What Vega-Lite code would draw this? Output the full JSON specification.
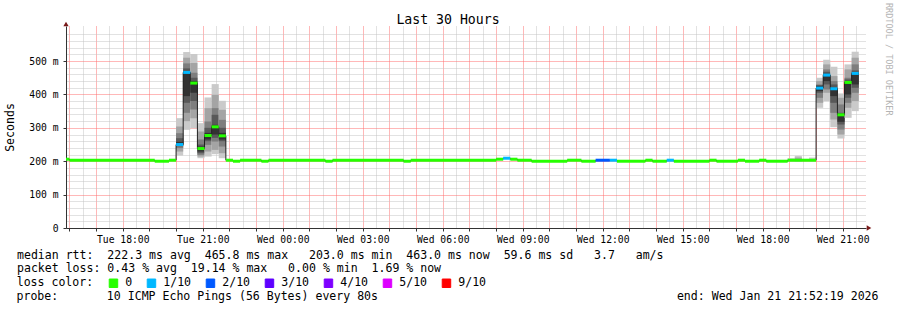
{
  "$schema": "https://vega.github.io/schema/vega-lite/v6.json",
  "width": 800,
  "height": 202,
  "autosize": "none",
  "padding": {"left": 66, "top": 26, "right": 31, "bottom": 82},
  "background": "white",
  "config": {"view": {"stroke": null}, "font": "DejaVu Sans Mono"},
  "title": {"text": "Last 30 Hours", "font": "DejaVu Sans Mono", "fontSize": 13.2, "fontWeight": "normal", "color": "#000", "anchor": "middle", "frame": "group", "baseline": "alphabetic", "offset": 0, "dx": -18, "dy": 34},
  "datasets": {
    "median": [
      {"t": "2026-01-20T15:52:19Z", "t2": "2026-01-20T16:00:00Z", "med": 206, "loss": "0"},
      {"t": "2026-01-20T16:00:00Z", "t2": "2026-01-20T19:12:00Z", "med": 203, "loss": "0"},
      {"t": "2026-01-20T19:12:00Z", "t2": "2026-01-20T19:44:00Z", "med": 200, "loss": "0"},
      {"t": "2026-01-20T19:44:00Z", "t2": "2026-01-20T20:00:00Z", "med": 203, "loss": "0"},
      {"t": "2026-01-20T20:00:00Z", "t2": "2026-01-20T20:16:00Z", "med": 250, "loss": "1/10"},
      {"t": "2026-01-20T20:16:00Z", "t2": "2026-01-20T20:32:00Z", "med": 466, "loss": "1/10"},
      {"t": "2026-01-20T20:32:00Z", "t2": "2026-01-20T20:48:00Z", "med": 434, "loss": "0"},
      {"t": "2026-01-20T20:48:00Z", "t2": "2026-01-20T21:04:00Z", "med": 238, "loss": "0"},
      {"t": "2026-01-20T21:04:00Z", "t2": "2026-01-20T21:20:00Z", "med": 277, "loss": "0"},
      {"t": "2026-01-20T21:20:00Z", "t2": "2026-01-20T21:36:00Z", "med": 303, "loss": "0"},
      {"t": "2026-01-20T21:36:00Z", "t2": "2026-01-20T21:52:00Z", "med": 276, "loss": "0"},
      {"t": "2026-01-20T21:52:00Z", "t2": "2026-01-20T22:08:00Z", "med": 203, "loss": "0"},
      {"t": "2026-01-20T22:08:00Z", "t2": "2026-01-20T22:24:00Z", "med": 200, "loss": "0"},
      {"t": "2026-01-20T22:24:00Z", "t2": "2026-01-20T23:12:00Z", "med": 203, "loss": "0"},
      {"t": "2026-01-20T23:12:00Z", "t2": "2026-01-20T23:28:00Z", "med": 200, "loss": "0"},
      {"t": "2026-01-20T23:28:00Z", "t2": "2026-01-21T01:36:00Z", "med": 203, "loss": "0"},
      {"t": "2026-01-21T01:36:00Z", "t2": "2026-01-21T01:52:00Z", "med": 200, "loss": "0"},
      {"t": "2026-01-21T01:52:00Z", "t2": "2026-01-21T04:32:00Z", "med": 203, "loss": "0"},
      {"t": "2026-01-21T04:32:00Z", "t2": "2026-01-21T04:48:00Z", "med": 200, "loss": "0"},
      {"t": "2026-01-21T04:48:00Z", "t2": "2026-01-21T08:00:00Z", "med": 203, "loss": "0"},
      {"t": "2026-01-21T08:00:00Z", "t2": "2026-01-21T08:16:00Z", "med": 206, "loss": "0"},
      {"t": "2026-01-21T08:16:00Z", "t2": "2026-01-21T08:32:00Z", "med": 209, "loss": "1/10"},
      {"t": "2026-01-21T08:32:00Z", "t2": "2026-01-21T08:48:00Z", "med": 206, "loss": "0"},
      {"t": "2026-01-21T08:48:00Z", "t2": "2026-01-21T09:20:00Z", "med": 203, "loss": "0"},
      {"t": "2026-01-21T09:20:00Z", "t2": "2026-01-21T10:40:00Z", "med": 200, "loss": "0"},
      {"t": "2026-01-21T10:40:00Z", "t2": "2026-01-21T11:12:00Z", "med": 203, "loss": "0"},
      {"t": "2026-01-21T11:12:00Z", "t2": "2026-01-21T11:44:00Z", "med": 200, "loss": "0"},
      {"t": "2026-01-21T11:44:00Z", "t2": "2026-01-21T12:16:00Z", "med": 203, "loss": "2/10"},
      {"t": "2026-01-21T12:16:00Z", "t2": "2026-01-21T12:32:00Z", "med": 203, "loss": "1/10"},
      {"t": "2026-01-21T12:32:00Z", "t2": "2026-01-21T13:36:00Z", "med": 200, "loss": "0"},
      {"t": "2026-01-21T13:36:00Z", "t2": "2026-01-21T13:52:00Z", "med": 203, "loss": "0"},
      {"t": "2026-01-21T13:52:00Z", "t2": "2026-01-21T14:24:00Z", "med": 200, "loss": "0"},
      {"t": "2026-01-21T14:24:00Z", "t2": "2026-01-21T14:40:00Z", "med": 203, "loss": "1/10"},
      {"t": "2026-01-21T14:40:00Z", "t2": "2026-01-21T16:00:00Z", "med": 200, "loss": "0"},
      {"t": "2026-01-21T16:00:00Z", "t2": "2026-01-21T16:16:00Z", "med": 203, "loss": "0"},
      {"t": "2026-01-21T16:16:00Z", "t2": "2026-01-21T17:04:00Z", "med": 200, "loss": "0"},
      {"t": "2026-01-21T17:04:00Z", "t2": "2026-01-21T17:20:00Z", "med": 203, "loss": "0"},
      {"t": "2026-01-21T17:20:00Z", "t2": "2026-01-21T17:52:00Z", "med": 200, "loss": "0"},
      {"t": "2026-01-21T17:52:00Z", "t2": "2026-01-21T18:08:00Z", "med": 203, "loss": "0"},
      {"t": "2026-01-21T18:08:00Z", "t2": "2026-01-21T18:56:00Z", "med": 200, "loss": "0"},
      {"t": "2026-01-21T18:56:00Z", "t2": "2026-01-21T20:00:00Z", "med": 203, "loss": "0"},
      {"t": "2026-01-21T20:00:00Z", "t2": "2026-01-21T20:16:00Z", "med": 419, "loss": "1/10"},
      {"t": "2026-01-21T20:16:00Z", "t2": "2026-01-21T20:32:00Z", "med": 458, "loss": "1/10"},
      {"t": "2026-01-21T20:32:00Z", "t2": "2026-01-21T20:48:00Z", "med": 417, "loss": "1/10"},
      {"t": "2026-01-21T20:48:00Z", "t2": "2026-01-21T21:04:00Z", "med": 339, "loss": "0"},
      {"t": "2026-01-21T21:04:00Z", "t2": "2026-01-21T21:20:00Z", "med": 436, "loss": "0"},
      {"t": "2026-01-21T21:20:00Z", "t2": "2026-01-21T21:36:00Z", "med": 463, "loss": "1/10"}
    ],
    "smoke": [
      {"t": "2026-01-20T20:00:00Z", "t2": "2026-01-20T20:16:00Z", "band": 1, "lo": 217, "hi": 329},
      {"t": "2026-01-20T20:00:00Z", "t2": "2026-01-20T20:16:00Z", "band": 2, "lo": 229, "hi": 304},
      {"t": "2026-01-20T20:00:00Z", "t2": "2026-01-20T20:16:00Z", "band": 3, "lo": 239, "hi": 284},
      {"t": "2026-01-20T20:00:00Z", "t2": "2026-01-20T20:16:00Z", "band": 4, "lo": 245, "hi": 269},
      {"t": "2026-01-20T20:00:00Z", "t2": "2026-01-20T20:16:00Z", "band": 5, "lo": 247, "hi": 258},
      {"t": "2026-01-20T20:16:00Z", "t2": "2026-01-20T20:32:00Z", "band": 1, "lo": 294, "hi": 527},
      {"t": "2026-01-20T20:16:00Z", "t2": "2026-01-20T20:32:00Z", "band": 2, "lo": 320, "hi": 510},
      {"t": "2026-01-20T20:16:00Z", "t2": "2026-01-20T20:32:00Z", "band": 3, "lo": 345, "hi": 493},
      {"t": "2026-01-20T20:16:00Z", "t2": "2026-01-20T20:32:00Z", "band": 4, "lo": 375, "hi": 478},
      {"t": "2026-01-20T20:16:00Z", "t2": "2026-01-20T20:32:00Z", "band": 5, "lo": 395, "hi": 470},
      {"t": "2026-01-20T20:32:00Z", "t2": "2026-01-20T20:48:00Z", "band": 1, "lo": 299, "hi": 521},
      {"t": "2026-01-20T20:32:00Z", "t2": "2026-01-20T20:48:00Z", "band": 2, "lo": 329, "hi": 494},
      {"t": "2026-01-20T20:32:00Z", "t2": "2026-01-20T20:48:00Z", "band": 3, "lo": 355, "hi": 465},
      {"t": "2026-01-20T20:32:00Z", "t2": "2026-01-20T20:48:00Z", "band": 4, "lo": 380, "hi": 450},
      {"t": "2026-01-20T20:32:00Z", "t2": "2026-01-20T20:48:00Z", "band": 5, "lo": 405, "hi": 440},
      {"t": "2026-01-20T20:48:00Z", "t2": "2026-01-20T21:04:00Z", "band": 1, "lo": 209, "hi": 314},
      {"t": "2026-01-20T20:48:00Z", "t2": "2026-01-20T21:04:00Z", "band": 2, "lo": 214, "hi": 289},
      {"t": "2026-01-20T20:48:00Z", "t2": "2026-01-20T21:04:00Z", "band": 3, "lo": 219, "hi": 265},
      {"t": "2026-01-20T20:48:00Z", "t2": "2026-01-20T21:04:00Z", "band": 4, "lo": 224, "hi": 250},
      {"t": "2026-01-20T20:48:00Z", "t2": "2026-01-20T21:04:00Z", "band": 5, "lo": 229, "hi": 244},
      {"t": "2026-01-20T21:04:00Z", "t2": "2026-01-20T21:20:00Z", "band": 1, "lo": 214, "hi": 391},
      {"t": "2026-01-20T21:04:00Z", "t2": "2026-01-20T21:20:00Z", "band": 2, "lo": 229, "hi": 359},
      {"t": "2026-01-20T21:04:00Z", "t2": "2026-01-20T21:20:00Z", "band": 3, "lo": 249, "hi": 319},
      {"t": "2026-01-20T21:04:00Z", "t2": "2026-01-20T21:20:00Z", "band": 4, "lo": 260, "hi": 300},
      {"t": "2026-01-20T21:04:00Z", "t2": "2026-01-20T21:20:00Z", "band": 5, "lo": 265, "hi": 285},
      {"t": "2026-01-20T21:20:00Z", "t2": "2026-01-20T21:36:00Z", "band": 1, "lo": 221, "hi": 431},
      {"t": "2026-01-20T21:20:00Z", "t2": "2026-01-20T21:36:00Z", "band": 2, "lo": 234, "hi": 399},
      {"t": "2026-01-20T21:20:00Z", "t2": "2026-01-20T21:36:00Z", "band": 3, "lo": 259, "hi": 359},
      {"t": "2026-01-20T21:20:00Z", "t2": "2026-01-20T21:36:00Z", "band": 4, "lo": 270, "hi": 339},
      {"t": "2026-01-20T21:20:00Z", "t2": "2026-01-20T21:36:00Z", "band": 5, "lo": 280, "hi": 309},
      {"t": "2026-01-20T21:36:00Z", "t2": "2026-01-20T21:52:00Z", "band": 1, "lo": 209, "hi": 381},
      {"t": "2026-01-20T21:36:00Z", "t2": "2026-01-20T21:52:00Z", "band": 2, "lo": 224, "hi": 354},
      {"t": "2026-01-20T21:36:00Z", "t2": "2026-01-20T21:52:00Z", "band": 3, "lo": 244, "hi": 324},
      {"t": "2026-01-20T21:36:00Z", "t2": "2026-01-20T21:52:00Z", "band": 4, "lo": 260, "hi": 300},
      {"t": "2026-01-20T21:36:00Z", "t2": "2026-01-20T21:52:00Z", "band": 5, "lo": 265, "hi": 285},
      {"t": "2026-01-21T18:56:00Z", "t2": "2026-01-21T19:12:00Z", "band": 1, "lo": 199, "hi": 209},
      {"t": "2026-01-21T19:12:00Z", "t2": "2026-01-21T19:28:00Z", "band": 1, "lo": 198, "hi": 216},
      {"t": "2026-01-21T19:12:00Z", "t2": "2026-01-21T19:28:00Z", "band": 2, "lo": 200, "hi": 211},
      {"t": "2026-01-21T19:44:00Z", "t2": "2026-01-21T20:00:00Z", "band": 1, "lo": 199, "hi": 211},
      {"t": "2026-01-21T20:00:00Z", "t2": "2026-01-21T20:16:00Z", "band": 1, "lo": 360, "hi": 450},
      {"t": "2026-01-21T20:00:00Z", "t2": "2026-01-21T20:16:00Z", "band": 2, "lo": 375, "hi": 440},
      {"t": "2026-01-21T20:00:00Z", "t2": "2026-01-21T20:16:00Z", "band": 3, "lo": 390, "hi": 430},
      {"t": "2026-01-21T20:00:00Z", "t2": "2026-01-21T20:16:00Z", "band": 4, "lo": 405, "hi": 428},
      {"t": "2026-01-21T20:00:00Z", "t2": "2026-01-21T20:16:00Z", "band": 5, "lo": 410, "hi": 425},
      {"t": "2026-01-21T20:16:00Z", "t2": "2026-01-21T20:32:00Z", "band": 1, "lo": 380, "hi": 504},
      {"t": "2026-01-21T20:16:00Z", "t2": "2026-01-21T20:32:00Z", "band": 2, "lo": 405, "hi": 490},
      {"t": "2026-01-21T20:16:00Z", "t2": "2026-01-21T20:32:00Z", "band": 3, "lo": 415, "hi": 475},
      {"t": "2026-01-21T20:16:00Z", "t2": "2026-01-21T20:32:00Z", "band": 4, "lo": 430, "hi": 468},
      {"t": "2026-01-21T20:16:00Z", "t2": "2026-01-21T20:32:00Z", "band": 5, "lo": 440, "hi": 462},
      {"t": "2026-01-21T20:32:00Z", "t2": "2026-01-21T20:48:00Z", "band": 1, "lo": 302, "hi": 483},
      {"t": "2026-01-21T20:32:00Z", "t2": "2026-01-21T20:48:00Z", "band": 2, "lo": 325, "hi": 455},
      {"t": "2026-01-21T20:32:00Z", "t2": "2026-01-21T20:48:00Z", "band": 3, "lo": 345, "hi": 440},
      {"t": "2026-01-21T20:32:00Z", "t2": "2026-01-21T20:48:00Z", "band": 4, "lo": 375, "hi": 430},
      {"t": "2026-01-21T20:32:00Z", "t2": "2026-01-21T20:48:00Z", "band": 5, "lo": 395, "hi": 420},
      {"t": "2026-01-21T20:48:00Z", "t2": "2026-01-21T21:04:00Z", "band": 1, "lo": 268, "hi": 403},
      {"t": "2026-01-21T20:48:00Z", "t2": "2026-01-21T21:04:00Z", "band": 2, "lo": 280, "hi": 390},
      {"t": "2026-01-21T20:48:00Z", "t2": "2026-01-21T21:04:00Z", "band": 3, "lo": 295, "hi": 370},
      {"t": "2026-01-21T20:48:00Z", "t2": "2026-01-21T21:04:00Z", "band": 4, "lo": 310, "hi": 345},
      {"t": "2026-01-21T20:48:00Z", "t2": "2026-01-21T21:04:00Z", "band": 5, "lo": 318, "hi": 342},
      {"t": "2026-01-21T21:04:00Z", "t2": "2026-01-21T21:20:00Z", "band": 1, "lo": 330, "hi": 490},
      {"t": "2026-01-21T21:04:00Z", "t2": "2026-01-21T21:20:00Z", "band": 2, "lo": 360, "hi": 475},
      {"t": "2026-01-21T21:04:00Z", "t2": "2026-01-21T21:20:00Z", "band": 3, "lo": 375, "hi": 450},
      {"t": "2026-01-21T21:04:00Z", "t2": "2026-01-21T21:20:00Z", "band": 4, "lo": 390, "hi": 445},
      {"t": "2026-01-21T21:04:00Z", "t2": "2026-01-21T21:20:00Z", "band": 5, "lo": 400, "hi": 438},
      {"t": "2026-01-21T21:20:00Z", "t2": "2026-01-21T21:36:00Z", "band": 1, "lo": 350, "hi": 528},
      {"t": "2026-01-21T21:20:00Z", "t2": "2026-01-21T21:36:00Z", "band": 2, "lo": 380, "hi": 510},
      {"t": "2026-01-21T21:20:00Z", "t2": "2026-01-21T21:36:00Z", "band": 3, "lo": 405, "hi": 490},
      {"t": "2026-01-21T21:20:00Z", "t2": "2026-01-21T21:36:00Z", "band": 4, "lo": 420, "hi": 472},
      {"t": "2026-01-21T21:20:00Z", "t2": "2026-01-21T21:36:00Z", "band": 5, "lo": 430, "hi": 466}
    ]
  },
  "layer": [
    {
      "data": {"name": "smoke"},
      "mark": {"type": "rect"},
      "encoding": {
        "x": {"field": "t", "type": "temporal",
          "scale": {"type": "utc", "domain": [1768924339000, 1769032339000]},
          "axis": {"orient": "bottom", "grid": true, "tickCount": 1000,
            "gridColor": {"condition": {"test": "utcminutes(datum.value) == 0", "value": "#ff7070"}, "value": "#c4c4c4"},
            "gridDash": [1, 1],
            "values": [1768924800000, 1768926600000, 1768928400000, 1768930200000, 1768932000000, 1768933800000, 1768935600000, 1768937400000, 1768939200000, 1768941000000, 1768942800000, 1768944600000, 1768946400000, 1768948200000, 1768950000000, 1768951800000, 1768953600000, 1768955400000, 1768957200000, 1768959000000, 1768960800000, 1768962600000, 1768964400000, 1768966200000, 1768968000000, 1768969800000, 1768971600000, 1768973400000, 1768975200000, 1768977000000, 1768978800000, 1768980600000, 1768982400000, 1768984200000, 1768986000000, 1768987800000, 1768989600000, 1768991400000, 1768993200000, 1768995000000, 1768996800000, 1768998600000, 1769000400000, 1769002200000, 1769004000000, 1769005800000, 1769007600000, 1769009400000, 1769011200000, 1769013000000, 1769014800000, 1769016600000, 1769018400000, 1769020200000, 1769022000000, 1769023800000, 1769025600000, 1769027400000, 1769029200000, 1769031000000],
            "labelExpr": "utcminutes(datum.value) == 0 && utchours(datum.value) % 3 == 0 ? utcFormat(datum.value, '%a %H:%M') : ''",
            "labelFont": "DejaVu Sans Mono", "labelFontSize": 9.7, "labelColor": "#000", "labelPadding": 3, "labelOverlap": false, "labelFlush": false, "labelBound": false,
            "ticks": true, "tickSize": {"condition": {"test": "utcminutes(datum.value) == 0", "value": 3}, "value": 0}, "tickColor": "#333", "domain": true, "domainColor": "#333",
            "title": [
              "median\u00a0rtt:\u00a0\u00a0222.3\u00a0ms\u00a0avg\u00a0\u00a0465.8\u00a0ms\u00a0max\u00a0\u00a0\u00a0203.0\u00a0ms\u00a0min\u00a0\u00a0463.0\u00a0ms\u00a0now\u00a0\u00a059.6\u00a0ms\u00a0sd\u00a0\u00a0\u00a03.7\u00a0\u00a0\u00a0am/s",
              "packet\u00a0loss:\u00a00.43\u00a0%\u00a0avg\u00a0\u00a019.14\u00a0%\u00a0max\u00a0\u00a0\u00a00.00\u00a0%\u00a0min\u00a0\u00a01.69\u00a0%\u00a0now"
            ],
            "titleX": -49.5, "titleY": 30, "titleAlign": "left", "titleAnchor": "start", "titleBaseline": "alphabetic", "titleFont": "DejaVu Sans Mono", "titleFontSize": 11.55, "titleFontWeight": "normal", "titleColor": "#000", "titleLineHeight": 13.9}},
        "x2": {"field": "t2"},
        "y": {"field": "lo", "type": "quantitative",
          "scale": {"domain": [0, 605], "nice": false, "zero": true},
          "axis": {"orient": "left", "grid": true, "tickCount": 1000,
            "gridColor": {"condition": {"test": "datum.value % 100 == 0", "value": "#ff7070"}, "value": "#c4c4c4"},
            "gridDash": [1, 1],
            "values": [0, 20, 40, 60, 80, 100, 120, 140, 160, 180, 200, 220, 240, 260, 280, 300, 320, 340, 360, 380, 400, 420, 440, 460, 480, 500, 520, 540, 560, 580],
            "labelExpr": "datum.value % 100 != 0 ? '' : datum.value == 0 ? '0\u00a0\u00a0' : format(datum.value, 'd') + '\u00a0m'",
            "labelFont": "DejaVu Sans Mono", "labelFontSize": 9.7, "labelColor": "#000", "labelPadding": 5, "labelOverlap": false, "labelBound": false, "labelFlush": false,
            "ticks": true, "tickSize": {"condition": {"test": "datum.value % 100 == 0", "value": 3}, "value": 0}, "tickColor": "#333", "domain": true, "domainColor": "#333",
            "title": "Seconds", "titleFont": "DejaVu Sans Mono", "titleFontSize": 11.55, "titleFontWeight": "normal", "titleColor": "#000", "titleAngle": 270, "titleX": -55.5, "titleY": 101, "titleAlign": "center", "titleBaseline": "middle"}},
        "y2": {"field": "hi"},
        "fill": {"field": "band", "type": "ordinal", "scale": {"domain": [1, 2, 3, 4, 5], "range": ["#cacaca", "#a4a4a4", "#7e7e7e", "#585858", "#323232"]}, "legend": null}
      }
    },
    {
      "data": {"name": "median"},
      "mark": {"type": "line", "interpolate": "step-after", "color": "#202020", "strokeWidth": 1},
      "encoding": {
        "x": {"field": "t", "type": "temporal"},
        "y": {"field": "med", "type": "quantitative"}
      }
    },
    {
      "data": {"name": "median"},
      "mark": {"type": "rule", "strokeWidth": 3},
      "encoding": {
        "x": {"field": "t", "type": "temporal"},
        "x2": {"field": "t2"},
        "y": {"field": "med", "type": "quantitative"},
        "color": {"field": "loss", "type": "nominal",
          "scale": {"domain": ["0", "1/10", "2/10", "3/10", "4/10", "5/10", "9/10"], "range": ["#26ff00", "#00b8ff", "#0059ff", "#5e00ff", "#7e00ff", "#dd00ff", "#ff0000"]},
          "legend": {"orient": "none", "legendX": -49.3, "legendY": 251, "direction": "horizontal",
            "title": "loss\u00a0color:", "titleOrient": "left", "titlePadding": 14, "titleFont": "DejaVu Sans Mono", "titleFontSize": 11.55, "titleFontWeight": "normal", "titleColor": "#000",
            "symbolType": "square", "symbolSize": 72, "symbolStrokeWidth": 1, "symbolStrokeColor": "#000", "labelFont": "DejaVu Sans Mono", "labelFontSize": 11.55, "labelColor": "#000", "labelOffset": 6, "columnPadding": 12, "padding": 0,
            "encode": {"symbols": {"update": {"fill": {"scale": "color", "field": "value"}, "stroke": {"value": "#000"}, "strokeWidth": {"value": 1}, "opacity": {"value": 1}}}}}}
      }
    },
    {
      "data": {"values": [{}]},
      "mark": {"type": "text", "text": "RRDTOOL / TOBI OETIKER", "angle": 90, "align": "left", "baseline": "middle", "font": "DejaVu Sans Mono", "fontSize": 8.5, "color": "#b4b4b4", "xOffset": 22.5, "yOffset": -23},
      "encoding": {
        "x": {"datum": 1769032339000, "type": "temporal"},
        "y": {"datum": 605, "type": "quantitative"}
      }
    },
    {
      "data": {"values": [{}]},
      "mark": {"type": "text", "text": "probe:\u00a0\u00a0\u00a0\u00a0\u00a0\u00a0\u00a010\u00a0ICMP\u00a0Echo\u00a0Pings\u00a0(56\u00a0Bytes)\u00a0every\u00a080s\u00a0\u00a0\u00a0\u00a0\u00a0\u00a0\u00a0\u00a0\u00a0\u00a0\u00a0\u00a0\u00a0\u00a0\u00a0\u00a0\u00a0\u00a0\u00a0\u00a0\u00a0\u00a0\u00a0\u00a0\u00a0\u00a0\u00a0\u00a0\u00a0\u00a0\u00a0\u00a0\u00a0\u00a0\u00a0\u00a0\u00a0\u00a0\u00a0\u00a0\u00a0\u00a0\u00a0end:\u00a0Wed\u00a0Jan\u00a021\u00a021:52:19\u00a02026", "align": "left", "baseline": "alphabetic", "font": "DejaVu Sans Mono", "fontSize": 11.55, "color": "#000", "xOffset": -49.5, "yOffset": 72.2},
      "encoding": {
        "x": {"datum": 1768924339000, "type": "temporal"},
        "y": {"datum": 0, "type": "quantitative"}
      }
    },
    {
      "data": {"values": [{}]},
      "mark": {"type": "point", "shape": "triangle-up", "filled": true, "color": "#7a1a1a", "size": 28, "opacity": 1, "yOffset": -2},
      "encoding": {
        "x": {"datum": 1768924339000, "type": "temporal"},
        "y": {"datum": 605, "type": "quantitative"}
      }
    },
    {
      "data": {"values": [{}]},
      "mark": {"type": "point", "shape": "triangle-right", "filled": true, "color": "#7a1a1a", "size": 28, "opacity": 1, "xOffset": 3},
      "encoding": {
        "x": {"datum": 1769032339000, "type": "temporal"},
        "y": {"datum": 0, "type": "quantitative"}
      }
    }
  ]
}
